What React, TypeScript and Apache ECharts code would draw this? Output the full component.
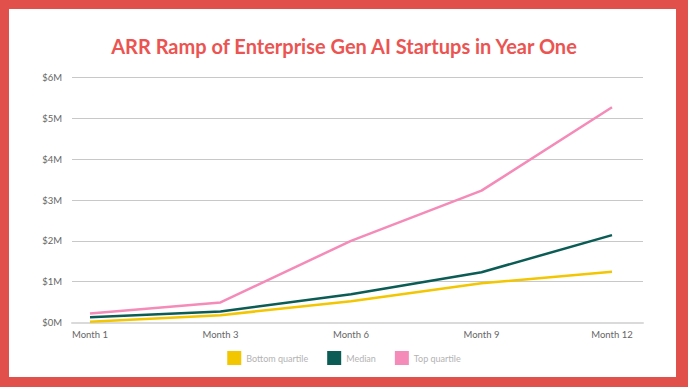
import React, { useEffect, useRef } from "react";
import * as echarts from "echarts";

const months = ["Month 1", "Month 3", "Month 6", "Month 9", "Month 12"];
const bottomQuartile = [0.02, 0.18, 0.52, 0.96, 1.24];
const median = [0.13, 0.27, 0.69, 1.23, 2.14];
const topQuartile = [0.22, 0.49, 2.0, 3.23, 5.27];
const seriesNames = ["Bottom quartile", "Median", "Top quartile"];
const colors = ["#F2C600", "#0A5C55", "#F58BB8"];

export default function App() {
  const ref = useRef<HTMLDivElement>(null);
  useEffect(() => {
    if (!ref.current) return;
    const chart = echarts.init(ref.current, undefined, { renderer: "svg" });
    const values = [bottomQuartile, median, topQuartile];
    chart.setOption({
      animation: false,
      title: {
        text: "ARR Ramp of Enterprise Gen AI Startups in Year One",
        left: "center",
        top: 31,
        textStyle: { color: "#EC5452", fontSize: 20, fontWeight: "bold", fontFamily: "Lato" },
      },
      legend: {
        bottom: 17,
        left: "center",
        icon: "rect",
        itemWidth: 14,
        itemHeight: 14,
        itemGap: 19,
        textStyle: { color: "#B3B3B3", fontSize: 9, fontFamily: "Lato" },
        data: seriesNames,
      },
      grid: [
        { left: 72, right: 45, top: 77.5, bottom: 64.5 },
        { left: 90, right: 76, top: 77.5, bottom: 64.5 },
      ],
      xAxis: [
        {
          gridIndex: 0,
          type: "value",
          min: 0,
          max: 1,
          axisLabel: { show: false },
          axisTick: { show: false },
          splitLine: { show: false },
          axisLine: { show: true, lineStyle: { color: "#DADADA", width: 2 } },
        },
        {
          gridIndex: 1,
          type: "category",
          boundaryGap: false,
          data: months,
          axisLine: { show: false },
          axisTick: { show: false },
          axisLabel: { color: "#666", fontSize: 9.5, margin: 7, fontFamily: "Lato" },
        },
      ],
      yAxis: [
        {
          gridIndex: 0,
          type: "value",
          min: 0,
          max: 6,
          interval: 1,
          axisLine: { show: false },
          axisTick: { show: false },
          axisLabel: {
            color: "#666",
            fontSize: 9.5,
            margin: 10,
            fontFamily: "Lato",
            formatter: (v: number) => `$${v}M`,
          },
          splitLine: { lineStyle: { color: "#C8C8C8", width: 1 } },
        },
        {
          gridIndex: 1,
          type: "value",
          min: 0,
          max: 6,
          interval: 1,
          show: false,
          splitLine: { show: false },
        },
      ],
      series: seriesNames.map((name, i) => ({
        name,
        type: "line",
        xAxisIndex: 1,
        yAxisIndex: 1,
        data: values[i],
        symbol: "none",
        color: colors[i],
        lineStyle: { width: 2.5, color: colors[i] },
      })),
    });
    return () => chart.dispose();
  }, []);
  return (
    <div
      style={{
        position: "fixed",
        left: 0,
        top: 0,
        width: 688,
        height: 387,
        background: "#E2504B",
      }}
    >
      <div
        style={{
          position: "absolute",
          left: 9,
          top: 9,
          width: 667,
          height: 368,
          background: "#FFFFFF",
        }}
      />
      <div ref={ref} style={{ position: "absolute", left: 0, top: 0, width: 688, height: 387 }} />
    </div>
  );
}
